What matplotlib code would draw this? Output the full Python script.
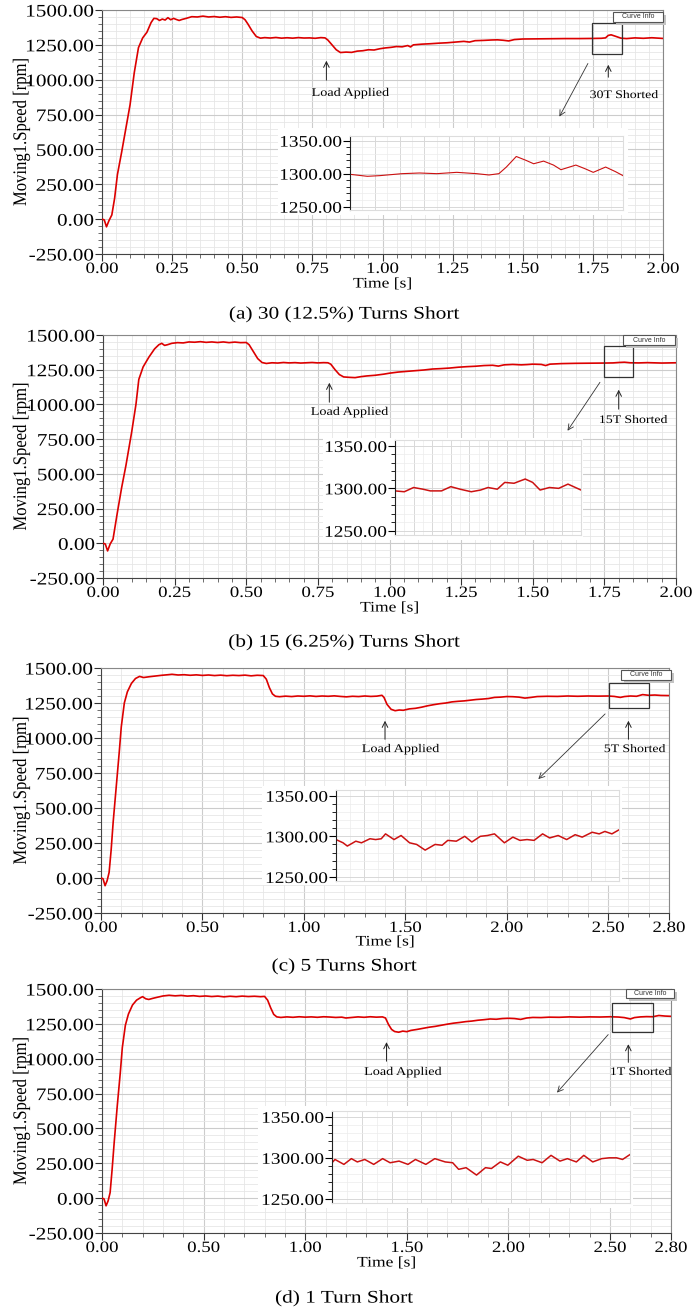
import numpy as np
import matplotlib.pyplot as plt
from matplotlib.patches import Rectangle
from matplotlib.ticker import MultipleLocator, FormatStrFormatter
from matplotlib.patheffects import AbstractPathEffect
from matplotlib.transforms import Affine2D

# ---- data: main speed curves (time [s], speed [rpm]) ----
t_a = [0.000, 0.008, 0.016, 0.025, 0.035, 0.045, 0.055, 0.070, 0.085, 0.100, 0.115, 0.130, 0.145, 0.160,
       0.175, 0.185, 0.195, 0.205, 0.215, 0.225, 0.235, 0.245, 0.255, 0.265, 0.275, 0.285, 0.300, 0.320,
       0.340, 0.360, 0.380, 0.400, 0.420, 0.440, 0.460, 0.480, 0.500, 0.510, 0.520, 0.535, 0.550, 0.565,
       0.580, 0.600, 0.620, 0.640, 0.660, 0.680, 0.700, 0.720, 0.740, 0.760, 0.780, 0.795, 0.805, 0.820,
       0.835, 0.850, 0.870, 0.890, 0.910, 0.930, 0.950, 0.970, 0.990, 1.010, 1.030, 1.050, 1.070, 1.090,
       1.100, 1.110, 1.140, 1.170, 1.200, 1.230, 1.260, 1.290, 1.310, 1.330, 1.360, 1.390, 1.410, 1.430,
       1.450, 1.470, 1.500, 1.550, 1.600, 1.650, 1.700, 1.750, 1.780, 1.795, 1.805, 1.815, 1.830, 1.850,
       1.870, 1.900, 1.930, 1.960, 2.000]
v_a = [0, -5, -55, -10, 30, 150, 320, 480, 650, 820, 1050, 1230, 1300, 1340,
       1410, 1440, 1438, 1425, 1435, 1428, 1445, 1430, 1440, 1432, 1425, 1432, 1440, 1452,
       1450, 1456, 1450, 1453, 1448, 1452, 1447, 1450, 1446, 1430, 1400, 1350, 1310, 1298,
       1302, 1299, 1303, 1298, 1301, 1298, 1302, 1299, 1300, 1297, 1302, 1300, 1285, 1250,
       1215, 1195, 1198, 1196, 1205, 1208, 1215, 1213, 1222, 1228, 1232, 1238, 1236, 1245,
       1235, 1250, 1255, 1258, 1262, 1265, 1270, 1275, 1270, 1280, 1282, 1285, 1286, 1283,
       1278, 1288, 1292, 1293, 1294, 1295, 1295, 1296, 1297, 1300, 1318, 1322, 1312, 1298,
       1295, 1300, 1297, 1301, 1296]

t_b = [0.000, 0.008, 0.016, 0.025, 0.035, 0.050, 0.065, 0.080, 0.100, 0.115, 0.125, 0.140, 0.160, 0.180,
       0.195, 0.205, 0.215, 0.225, 0.240, 0.260, 0.280, 0.300, 0.320, 0.340, 0.360, 0.380, 0.400, 0.420,
       0.440, 0.460, 0.480, 0.500, 0.510, 0.525, 0.540, 0.555, 0.570, 0.590, 0.610, 0.630, 0.650, 0.670,
       0.690, 0.710, 0.730, 0.750, 0.770, 0.785, 0.795, 0.810, 0.825, 0.840, 0.860, 0.880, 0.900, 0.920,
       0.950, 0.980, 1.000, 1.030, 1.060, 1.090, 1.120, 1.150, 1.180, 1.210, 1.240, 1.270, 1.300, 1.330,
       1.360, 1.380, 1.400, 1.430, 1.460, 1.480, 1.500, 1.530, 1.545, 1.560, 1.600, 1.650, 1.700, 1.750,
       1.780, 1.800, 1.820, 1.840, 1.870, 1.900, 1.950, 2.000]
v_b = [0, -5, -55, -5, 30, 220, 400, 560, 800, 1000, 1180, 1270, 1340, 1400,
       1430, 1440, 1425, 1430, 1440, 1445, 1443, 1450, 1448, 1452, 1447, 1450, 1446, 1450,
       1445, 1449, 1445, 1446, 1430, 1380, 1330, 1302, 1295, 1300, 1298, 1302, 1299, 1301,
       1298, 1300, 1302, 1299, 1301, 1300, 1290, 1250, 1215, 1198, 1195, 1193, 1200, 1205,
       1210, 1218, 1225, 1233, 1238, 1243, 1248, 1255, 1258, 1262, 1268, 1272, 1275, 1280,
       1282, 1276, 1285, 1288, 1285, 1287, 1290, 1288, 1280, 1290, 1294, 1296, 1297, 1298,
       1299, 1302, 1304, 1300, 1299, 1301, 1298, 1300]

t_c = [0.000, 0.010, 0.020, 0.030, 0.040, 0.050, 0.060, 0.075, 0.090, 0.100, 0.115, 0.130, 0.150, 0.170,
       0.190, 0.210, 0.240, 0.270, 0.300, 0.330, 0.350, 0.380, 0.410, 0.440, 0.470, 0.500, 0.530, 0.560,
       0.590, 0.620, 0.650, 0.680, 0.710, 0.740, 0.770, 0.800, 0.815, 0.830, 0.845, 0.860, 0.880, 0.910,
       0.940, 0.970, 1.000, 1.030, 1.060, 1.090, 1.120, 1.150, 1.180, 1.210, 1.240, 1.270, 1.300, 1.330,
       1.360, 1.385, 1.395, 1.410, 1.430, 1.450, 1.470, 1.490, 1.520, 1.550, 1.580, 1.610, 1.640, 1.670,
       1.700, 1.730, 1.760, 1.790, 1.820, 1.850, 1.880, 1.910, 1.940, 1.970, 2.000, 2.030, 2.060, 2.090,
       2.120, 2.150, 2.200, 2.250, 2.300, 2.350, 2.400, 2.450, 2.500, 2.530, 2.560, 2.580, 2.610, 2.640,
       2.670, 2.700, 2.730, 2.760, 2.800]
v_c = [0, -5, -55, -20, 40, 200, 400, 650, 900, 1080, 1250, 1330, 1390, 1425,
       1440, 1432, 1438, 1443, 1448, 1452, 1455, 1450, 1452, 1448, 1451, 1447, 1450, 1446,
       1449, 1445, 1448, 1446, 1449, 1444, 1448, 1446, 1420, 1360, 1315, 1298, 1295, 1299,
       1296, 1300, 1298, 1301, 1297, 1300, 1298, 1301, 1297, 1294, 1298, 1296, 1300, 1297,
       1299, 1305, 1290, 1240, 1205, 1195, 1200, 1198, 1208, 1212, 1220, 1230, 1238, 1245,
       1250, 1258, 1262, 1265, 1270, 1275, 1278, 1282, 1290, 1292, 1296, 1295, 1292, 1285,
       1290, 1296, 1298, 1297, 1300, 1298, 1300, 1299, 1300, 1297, 1290, 1296, 1300, 1298,
       1310, 1305, 1307, 1304, 1303]

t_d = [0.000, 0.010, 0.020, 0.030, 0.040, 0.050, 0.060, 0.075, 0.090, 0.100, 0.115, 0.130, 0.150, 0.170,
       0.190, 0.200, 0.215, 0.230, 0.250, 0.270, 0.300, 0.330, 0.360, 0.390, 0.420, 0.450, 0.480, 0.510,
       0.540, 0.570, 0.600, 0.630, 0.660, 0.690, 0.720, 0.750, 0.780, 0.800, 0.815, 0.830, 0.845, 0.860,
       0.880, 0.910, 0.940, 0.970, 1.000, 1.030, 1.060, 1.090, 1.120, 1.150, 1.180, 1.200, 1.230, 1.260,
       1.290, 1.320, 1.350, 1.380, 1.395, 1.410, 1.425, 1.440, 1.460, 1.480, 1.500, 1.520, 1.550, 1.580,
       1.610, 1.640, 1.670, 1.700, 1.730, 1.760, 1.790, 1.820, 1.850, 1.880, 1.910, 1.940, 1.970, 2.000,
       2.030, 2.060, 2.090, 2.120, 2.160, 2.200, 2.250, 2.300, 2.350, 2.400, 2.450, 2.500, 2.540, 2.570,
       2.600, 2.620, 2.650, 2.680, 2.710, 2.740, 2.770, 2.800]
v_d = [0, -5, -55, -20, 40, 210, 400, 660, 900, 1080, 1240, 1320, 1385, 1420,
       1438, 1445, 1430, 1425, 1433, 1440, 1450, 1455, 1451, 1454, 1449, 1452, 1447, 1450,
       1446, 1449, 1444, 1448, 1445, 1449, 1446, 1448, 1445, 1447, 1420, 1365, 1318, 1300,
       1296, 1300, 1297, 1301, 1298, 1300, 1297, 1301, 1299, 1296, 1298, 1292, 1296, 1300,
       1297, 1301, 1298, 1300, 1292, 1245, 1210, 1195, 1190, 1198, 1194, 1203, 1210, 1218,
       1226, 1232, 1240, 1248, 1255, 1260, 1266, 1270, 1276, 1280, 1285, 1283, 1288, 1290,
       1288, 1282, 1292, 1296, 1295, 1298, 1297, 1300, 1298, 1300, 1299, 1301, 1299, 1295,
       1285, 1295, 1300, 1302, 1301, 1310, 1306, 1304]

# ---- data: zoomed insets ----
it_a = [1.750, 1.757, 1.762, 1.771, 1.778, 1.785, 1.793, 1.801, 1.806, 1.810, 1.813, 1.817, 1.821,
        1.824, 1.828, 1.832, 1.835, 1.841, 1.845, 1.848, 1.853, 1.857, 1.860]
iv_a = [1299, 1296, 1297, 1300, 1301, 1300, 1302, 1300, 1298, 1300, 1310, 1326, 1320,
        1315, 1319, 1313, 1306, 1313, 1307, 1302, 1310, 1303, 1297]

it_b = [1.750, 1.755, 1.760, 1.765, 1.769, 1.775, 1.780, 1.785, 1.791, 1.796, 1.800, 1.805, 1.809,
        1.814, 1.820, 1.824, 1.828, 1.833, 1.838, 1.843, 1.846, 1.850]
iv_b = [1297, 1296, 1301, 1299, 1297, 1297, 1302, 1299, 1296, 1298, 1301, 1299, 1307,
        1306, 1311, 1307, 1298, 1301, 1300, 1305, 1302, 1298]

it_c = [2.500, 2.505, 2.508, 2.514, 2.518, 2.524, 2.528, 2.532, 2.535, 2.541, 2.546, 2.552, 2.557,
        2.563, 2.570, 2.575, 2.579, 2.585, 2.591, 2.596, 2.602, 2.607, 2.612, 2.619, 2.625, 2.630,
        2.635, 2.640, 2.646, 2.651, 2.657, 2.663, 2.669, 2.674, 2.681, 2.686, 2.690, 2.695, 2.700]
iv_c = [1296, 1292, 1288, 1294, 1292, 1297, 1296, 1297, 1303, 1296, 1301, 1292, 1290,
        1283, 1290, 1289, 1295, 1294, 1300, 1293, 1300, 1301, 1303, 1292, 1299, 1295,
        1296, 1295, 1303, 1298, 1301, 1296, 1302, 1299, 1305, 1303, 1306, 1303, 1308]

it_d = [2.500, 2.502, 2.508, 2.513, 2.517, 2.522, 2.528, 2.534, 2.539, 2.545, 2.551, 2.556, 2.563,
        2.569, 2.576, 2.581, 2.585, 2.590, 2.597, 2.603, 2.607, 2.613, 2.618, 2.625, 2.631, 2.635,
        2.641, 2.647, 2.653, 2.658, 2.664, 2.669, 2.675, 2.681, 2.686, 2.691, 2.695, 2.700]
iv_d = [1294, 1298, 1292, 1299, 1295, 1298, 1292, 1299, 1294, 1296, 1292, 1298, 1292,
        1299, 1295, 1294, 1286, 1288, 1279, 1288, 1287, 1295, 1291, 1302, 1297, 1298,
        1294, 1303, 1296, 1299, 1295, 1303, 1295, 1299, 1300, 1300, 1298, 1304]

captions = ['(a) 30 (12.5%) Turns Short', '(b) 15 (6.25%) Turns Short',
            '(c) 5 Turns Short', '(d) 1 Turn Short']
fault_labels = ['30T Shorted', '15T Shorted', '5T Shorted', '1T Shorted']

W, H = 695, 1309
SERIF = 'Liberation Serif'
RED = '#dc0000'
SX = 1.2  # the source picture is stretched sideways


class Stretch(AbstractPathEffect):
    # widen glyphs about the text anchor (0 left, 0.5 centre, 1 right)
    def __init__(self, sx=SX, sy=1.0, anchor=0.5):
        super().__init__()
        self.sx, self.sy, self.anchor = sx, sy, anchor

    def draw_path(self, renderer, gc, tpath, affine, rgbFace=None):
        w = tpath.vertices[:, 0].max() if len(tpath.vertices) else 0
        x0 = self.anchor * w
        tr = Affine2D().translate(-x0, 0).scale(self.sx, self.sy).translate(x0, 0)
        renderer.draw_path(gc, tpath, tr + affine, rgbFace)


def stretch(txt, anchor=0.5, sx=SX, sy=1.0):
    txt.set_path_effects([Stretch(sx, sy, anchor)])
    return txt


def rect(l, t, r, b):
    return [l / W, 1 - b / H, (r - l) / W, (b - t) / H]


fig = plt.figure(figsize=(W / 100, H / 100), dpi=100)

# layout of each panel in pixels
panels = [
    dict(t=t_a, v=v_a, it=it_a, iv=iv_a, tmax=2.0, xmaj=0.25, xmin=0.05,
         ax=(102, 10, 663, 254), ins=(350, 136, 623, 210), back=(278, 128, 628, 215),
         box=(1.747, 1185, 0.107, 222), load=(0.80, 1156, 977), load_txt=(0.885, 905),
         fault=(1.805, 1127, 998), fault_txt=(1.86, 890), diag=((1.737, 1134), (1.626, 718)),
         info=(613, 12, 663, 22), xlab_y=284, cap_y=314, ixmaj=0.01),
    dict(t=t_b, v=v_b, it=it_b, iv=iv_b, tmax=2.0, xmaj=0.25, xmin=0.05,
         ax=(103, 335, 676, 578), ins=(395, 440, 581, 535), back=(323, 438, 583, 540),
         box=(1.749, 1198, 0.101, 222), load=(0.79, 1176, 996), load_txt=(0.86, 946),
         fault=(1.80, 1126, 946), fault_txt=(1.85, 888), diag=((1.74, 1176), (1.616, 794)),
         info=(623, 335, 675, 345), xlab_y=608, cap_y=642, ixmaj=0.01),
    dict(t=t_c, v=v_c, it=it_c, iv=iv_c, tmax=2.8, xmaj=0.5, xmin=0.1,
         ax=(101, 668, 669, 913), ins=(336, 790, 619, 881), back=(262, 786, 622, 885),
         box=(2.505, 1214, 0.195, 179), load=(1.40, 1143, 971), load_txt=(1.476, 921),
         fault=(2.60, 1143, 971), fault_txt=(2.63, 921), diag=((2.495, 1186), (2.146, 693)),
         info=(621, 670, 671, 680), xlab_y=942, cap_y=966, ixmaj=0.02),
    dict(t=t_d, v=v_d, it=it_d, iv=iv_d, tmax=2.8, xmaj=0.5, xmin=0.1,
         ax=(102, 989, 671, 1233), ins=(332, 1111, 630, 1203), back=(258, 1106, 633, 1208),
         box=(2.51, 1195, 0.20, 206), load=(1.40, 1139, 962), load_txt=(1.48, 905),
         fault=(2.59, 1124, 954), fault_txt=(2.65, 905), diag=((2.50, 1188), (2.23, 742)),
         info=(626, 989, 674, 998), xlab_y=1263, cap_y=1298, ixmaj=0.02),
]

for i, p in enumerate(panels):
    l, t, r, b = p['ax']
    ax = fig.add_axes(rect(l, t, r, b))
    ax.plot(p['t'], p['v'], color=RED, lw=1.2, zorder=3)
    ax.set_xlim(0, p['tmax'])
    ax.set_ylim(-250, 1500)
    ax.set_yticks(np.arange(-250, 1501, 250))
    ax.yaxis.set_minor_locator(MultipleLocator(50))
    xt = list(np.arange(0, p['tmax'] + 1e-6, p['xmaj']))
    if abs(xt[-1] - p['tmax']) > 1e-6:
        xt.append(p['tmax'])
    ax.set_xticks(xt)
    ax.xaxis.set_minor_locator(MultipleLocator(p['xmin']))
    ax.xaxis.set_major_formatter(FormatStrFormatter('%.2f'))
    ax.yaxis.set_major_formatter(FormatStrFormatter('%.2f'))
    ax.grid(which='major', color='#cccccc', lw=0.8)
    ax.grid(which='minor', color='#e6e6e6', lw=0.6)
    ax.set_axisbelow(True)
    ax.tick_params(which='major', direction='out', length=5, width=0.8, pad=1,
                   colors='#333333', labelcolor='black')
    ax.tick_params(axis='y', which='major', labelsize=12.7)
    ax.tick_params(axis='x', which='major', labelsize=11.3, pad=0)
    ax.tick_params(which='minor', direction='out', length=3, width=0.6, colors='#555555')
    for lab in ax.get_yticklabels():
        lab.set_family(SERIF)
        stretch(lab, 1.0)
    for lab in ax.get_xticklabels():
        lab.set_family(SERIF)
        stretch(lab, 0.5)
    for s in ['left', 'bottom']:
        ax.spines[s].set_color('#444444')
    for s in ['top', 'right']:
        ax.spines[s].set_color('#888888')

    # zoom box, arrows and notes
    bx, by, bw, bh = p['box']
    ax.add_patch(Rectangle((bx, by), bw, bh, fill=False, ec='#333333', lw=0.9, zorder=4))
    ax.annotate('', xy=(p['load'][0], p['load'][1]), xytext=(p['load'][0], p['load'][2]),
                arrowprops=dict(arrowstyle='->', lw=0.7, color='#222222'))
    stretch(ax.text(p['load_txt'][0], p['load_txt'][1], 'Load Applied', ha='center', va='center',
                    fontsize=8.5, family=SERIF))
    ax.annotate('', xy=(p['fault'][0], p['fault'][1]), xytext=(p['fault'][0], p['fault'][2]),
                arrowprops=dict(arrowstyle='->', lw=0.7, color='#222222'))
    stretch(ax.text(p['fault_txt'][0], p['fault_txt'][1], fault_labels[i], ha='center', va='center',
                    fontsize=8.3, family=SERIF))
    ax.annotate('', xy=p['diag'][1], xytext=p['diag'][0],
                arrowprops=dict(arrowstyle='->', lw=0.6, color='#333333'))

    # white backing of pasted zoom picture
    bl, bt, br, bb = p['back']
    bk = fig.add_axes(rect(bl, bt, br, bb))
    bk.set_facecolor('white')
    bk.set_xticks([])
    bk.set_yticks([])
    for s in bk.spines.values():
        s.set_visible(False)

    # inset
    il, itp, ir, ib = p['ins']
    ia = fig.add_axes(rect(il, itp, ir, ib))
    ia.plot(p['it'], p['iv'], color='#cc1111', lw=1.1 if i else 0.8)
    ia.set_xlim(p['it'][0], p['it'][-1])
    ia.set_ylim(1245, 1357)
    ia.set_yticks([1250, 1300, 1350])
    ia.yaxis.set_minor_locator(MultipleLocator(10))
    ia.yaxis.set_major_formatter(FormatStrFormatter('%.2f'))
    ia.xaxis.set_major_locator(MultipleLocator(p['ixmaj']))
    ia.xaxis.set_minor_locator(MultipleLocator(p['ixmaj'] / 2))
    ia.grid(which='major', color='#d8d8d8', lw=0.7)
    ia.grid(which='minor', color='#ececec', lw=0.5)
    ia.tick_params(axis='x', which='both', length=0, labelbottom=False)
    ia.tick_params(axis='y', which='major', direction='out', length=5, width=0.8, labelsize=11.6, pad=1)
    ia.tick_params(axis='y', which='minor', direction='out', length=3, width=0.6)
    for lab in ia.get_yticklabels():
        lab.set_family(SERIF)
        stretch(lab, 1.0)
    ia.spines['left'].set_color('#222222')
    for s in ['top', 'right', 'bottom']:
        ia.spines[s].set_color('#dddddd')

    # "Curve Info" legend stub
    cl, ct, cr, cb = p['info']
    fig.add_artist(Rectangle(((cl + 3) / W, 1 - (cb + 3) / H), (cr - cl) / W, (cb - ct) / H,
                             transform=fig.transFigure, fc='#c4c4c4', ec='none', zorder=5))
    fig.add_artist(Rectangle((cl / W, 1 - cb / H), (cr - cl) / W, (cb - ct) / H,
                             transform=fig.transFigure, fc='white', ec='#555555', lw=0.8, zorder=6))
    fig.text((cl + cr) / 2 / W, 1 - (ct + cb) / 2 / H, 'Curve Info', ha='center', va='center',
             fontsize=5, family='Liberation Sans', color='#333333', zorder=7)

    # labels
    stretch(fig.text(22 / W, 1 - (t + b) / 2 / H, 'Moving1.Speed [rpm]', rotation=90, ha='center',
                     va='center', fontsize=12, family=SERIF), sx=1.0, sy=1.15)
    stretch(fig.text((l + r) / 2 / W, 1 - p['xlab_y'] / H, 'Time [s]', ha='center', va='center',
                     fontsize=10.5, family=SERIF))
    stretch(fig.text(344 / W, 1 - p['cap_y'] / H, captions[i], ha='center', va='center',
                     fontsize=12.8, family=SERIF))

fig.savefig('out.png', dpi=100, facecolor='white')
plt.close()
